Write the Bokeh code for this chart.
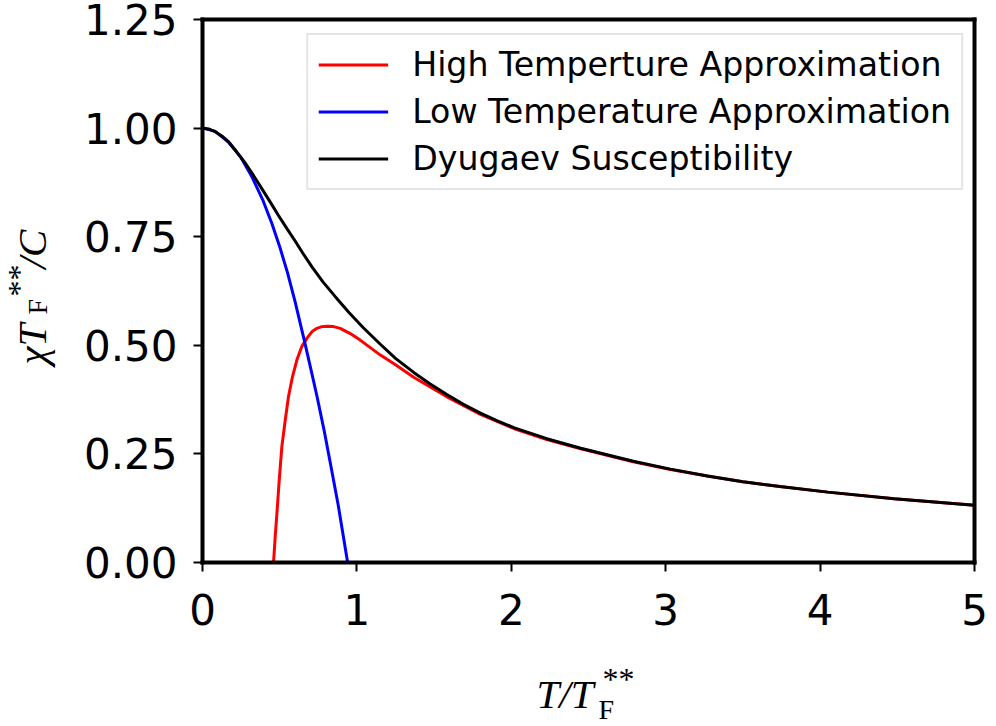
import math
from bokeh.plotting import figure
from bokeh.models import Range1d, FixedTicker, PrintfTickFormatter, Label, LinearAxis
from bokeh.embed import file_html
from bokeh.resources import INLINE

# ---- data ----
x_dyugaev = [0.0, 0.04, 0.08, 0.125, 0.17, 0.22, 0.28, 0.33, 0.38, 0.44, 0.49, 0.55,
             0.60, 0.65, 0.71, 0.78, 0.86, 0.95, 1.04, 1.15, 1.25, 1.37, 1.47, 1.58,
             1.69, 1.80, 1.91, 2.02, 2.23, 2.45, 2.79, 3.03, 3.27, 3.50, 3.74, 4.05,
             4.48, 5.00]
y_dyugaev = [1.000, 0.998, 0.992, 0.982, 0.968, 0.946, 0.918, 0.891, 0.863, 0.829,
             0.800, 0.767, 0.740, 0.712, 0.680, 0.646, 0.612, 0.575, 0.541, 0.503,
             0.470, 0.437, 0.412, 0.387, 0.364, 0.344, 0.326, 0.310, 0.285, 0.263,
             0.233, 0.215, 0.199, 0.186, 0.175, 0.162, 0.147, 0.132]

x_high = [0.460, 0.471, 0.482, 0.497, 0.514, 0.536, 0.557, 0.583, 0.611, 0.643, 0.676,
          0.708, 0.741, 0.773, 0.806, 0.849, 0.892, 0.957, 1.021, 1.078, 1.150, 1.250,
          1.370, 1.580, 1.800, 2.020, 2.230, 2.450, 2.790, 3.030, 3.270, 3.500, 3.740,
          4.050, 4.480, 5.000]
y_high = [0.000, 0.060, 0.113, 0.190, 0.267, 0.328, 0.382, 0.428, 0.466, 0.497, 0.516,
          0.531, 0.539, 0.543, 0.544, 0.543, 0.539, 0.527, 0.512, 0.497, 0.478, 0.455,
          0.426, 0.382, 0.341, 0.308, 0.283, 0.262, 0.232, 0.214, 0.199, 0.186, 0.175,
          0.162, 0.147, 0.132]

x_low = [0.0, 0.08, 0.17, 0.25, 0.32, 0.39, 0.45, 0.50, 0.55, 0.60, 0.66, 0.70, 0.74,
         0.79, 0.83, 0.88, 0.94]
y_low = [1.000, 0.993, 0.967, 0.932, 0.888, 0.835, 0.780, 0.727, 0.668, 0.600, 0.510,
         0.448, 0.385, 0.300, 0.225, 0.130, 0.000]

x_ticks = [0, 1, 2, 3, 4, 5]
y_ticks = [0.0, 0.25, 0.5, 0.75, 1.0, 1.25]

labels = ["High Temperture Approximation", "Low Temperature Approximation",
          "Dyugaev Susceptibility"]
colors = ["#ff0000", "#0000ff", "#000000"]

W, H = 996, 726
# pixel box of the axes inside the canvas
BOX_L, BOX_R, BOX_T, BOX_B = 202, 974, 19, 562
x0, x1 = x_ticks[0], x_ticks[-1]
y0, y1 = y_ticks[0], y_ticks[-1]
sx = (x1 - x0) / (BOX_R - BOX_L)
sy = (y1 - y0) / (BOX_B - BOX_T)

p = figure(width=W, height=H, output_backend="svg", toolbar_location=None,
           x_range=Range1d(x0 - BOX_L * sx, x1 + (W - BOX_R) * sx),
           y_range=Range1d(y0 - (H - BOX_B) * sy, y1 + BOX_T * sy),
           x_axis_location=None, y_axis_location=None,
           min_border=0)
p.background_fill_color = "white"
p.border_fill_color = "white"
p.grid.visible = False
p.outline_line_color = None

p.line(x_high, y_high, line_color=colors[0], line_width=3, legend_label=labels[0])
p.line(x_low, y_low, line_color=colors[1], line_width=3, legend_label=labels[1])
p.line(x_dyugaev, y_dyugaev, line_color=colors[2], line_width=3, legend_label=labels[2])


def make_axis(kind, place, loc, bounds, ticks, fmt):
    ax = kind(fixed_location=loc, bounds=bounds)
    ax.ticker = FixedTicker(ticks=ticks)
    ax.axis_line_color = "black"
    ax.axis_line_width = 4
    ax.axis_line_cap = "square"
    ax.major_tick_line_color = "black"
    ax.major_tick_line_width = 2
    ax.major_tick_out = 9
    ax.major_tick_in = 0
    ax.minor_tick_line_color = None
    ax.major_label_text_font = "DejaVu Sans"
    ax.major_label_text_font_size = "42px"
    ax.major_label_text_color = "black"
    if fmt is not None:
        ax.formatter = PrintfTickFormatter(format=fmt)
    p.add_layout(ax, place)
    return ax


xa = make_axis(LinearAxis, "below", y0, (x0, x1), x_ticks, "%d")
xa.major_label_standoff = 22
ya = make_axis(LinearAxis, "left", x0, (y0, y1), y_ticks, "%.2f")
ya.major_label_standoff = 16
make_axis(LinearAxis, "above", y1, (x0, x1), [], None)
make_axis(LinearAxis, "right", x1, (y0, y1), [], None)

leg = p.legend[0]
leg.location = "top_right"
leg.margin = 33
leg.padding = 10
leg.spacing = 8
leg.glyph_width = 70
leg.glyph_height = 37
leg.label_height = 37
leg.label_standoff = 24
leg.label_text_font = "DejaVu Sans"
leg.label_text_font_size = "33.2px"
leg.label_text_color = "black"
leg.border_line_color = "#cccccc"
leg.border_line_width = 2
leg.background_fill_color = "white"
leg.background_fill_alpha = 0.8


def add_label(text, x_img, y_img, size, style, angle=0.0):
    # screen units measured from the canvas' bottom-left corner (frame == canvas)
    p.add_layout(Label(x=x_img, y=H - y_img, x_units="screen", y_units="screen",
                       text=text, text_font="Liberation Serif", text_font_size=size,
                       text_font_style=style, text_align="left",
                       text_baseline="alphabetic", angle=angle, text_color="black"))

# x axis label: T/T_F^{**}
add_label("T/T", 536, 693, "41px", "italic")
add_label("F", 598, 709, "28px", "normal")
add_label("**", 602, 678, "32px", "normal")

# y axis label: chi T_F^{**} / C  (rotated)
a = math.pi / 2
add_label("\u03c7T", 31, 364, "41px", "italic", a)
add_label("F", 37, 314, "28px", "normal", a)
add_label("**", 18, 296, "32px", "normal", a)
add_label("/C", 31, 268, "41px", "italic", a)

open("out.html", "w").write(file_html(p, INLINE))
